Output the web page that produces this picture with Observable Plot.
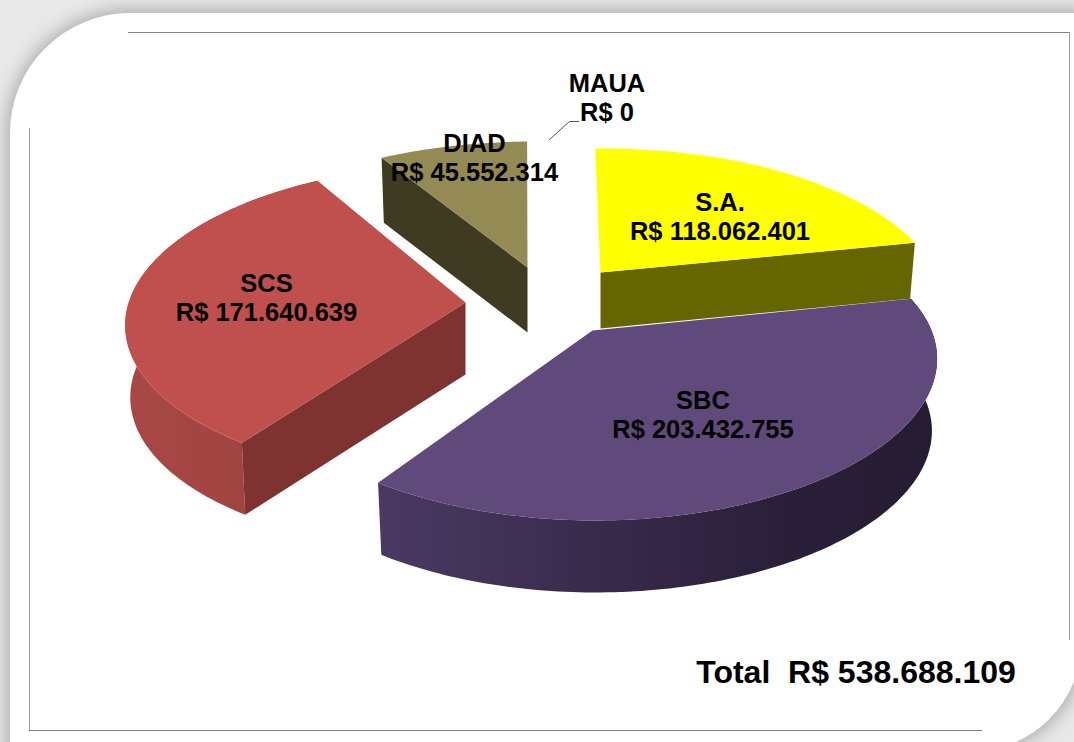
<!DOCTYPE html>
<html>
<head>
<meta charset="utf-8">
<script src="https://cdn.jsdelivr.net/npm/d3@7"></script>
<script src="https://cdn.jsdelivr.net/npm/@observablehq/plot@0.6"></script>
<style>
html,body{margin:0;padding:0;background:#fff;overflow:hidden}
#page{position:relative;width:1074px;height:742px;overflow:hidden;background:#e9e9e9}
#card{position:absolute;left:10px;top:13px;width:1072px;height:739px;background:#fff;border-radius:120px 0 112px 0;box-shadow:0 0 18px 3px #a8a8a8}
.rule{position:absolute;background:#828282}
#chart{position:absolute;left:0;top:0}
#chart svg{background:transparent;display:block}
</style>
</head>
<body>
<div id="page">
  <div id="card"></div>
  <div class="rule" style="left:128px;top:32px;width:942px;height:1px"></div>
  <div class="rule" style="left:29px;top:128px;width:1px;height:603px;background:#a0a0a0"></div>
  <div class="rule" style="left:29px;top:730px;width:953px;height:1px"></div>
  <div class="rule" style="left:1069px;top:32px;width:1px;height:608px;background:#a0a0a0"></div>
  <div id="chart"></div>
</div>
<script>
// Data
const names  = ["S.A.", "SBC", "SCS", "DIAD", "MAUA"];
const values = [118062401, 203432755, 171640639, 45552314, 0];

// Styles
const topColors  = ["#ffff00", "#604a7b", "#c0504d", "#948a54"];
const sideColors = ["#666600", "#3a2c4e", "#7f3331", "#3f3a22"];

// Exploded pie layout: apex of each slice, offset of its rim, rim size, wall height, label anchor
const apexX   = [600, 592, 465, 527];
const apexY   = [272, 330, 302, 267];
const rimDX   = [2, 3, 0, 7];
const rimDY   = [2, 0, -12, 0];
const rimRX   = [334, 336, 332, 338];
const perspX  = [0.2, 0.18, 0.22, 0.2];
const depth   = [56, 72, 72, 65];
const labelX  = [719.5, 702.5, 266, 474, 606.5];
const labelY  = [216, 414, 297, 157, 97];

// Projection of the tilted disc
const startDeg = -1.5, radiusY = 151.5, perspY = 0.2025, wallShrink = 0.985;

const total = d3.sum(values);
const money = v => "R$ " + String(v).replace(/\B(?=(\d{3})+$)/g, ".");

function project(i, deg, drop = 0) {
  const t = deg * Math.PI / 180, u = Math.sin(t), v = Math.cos(t);
  const dx = rimDX[i] + rimRX[i] * u / (1 + perspX[i] * v);
  const dy = rimDY[i] - radiusY * v / (1 + perspY * v);
  return {x: apexX[i] + dx * (drop ? wallShrink : 1), y: apexY[i] + dy + drop};
}

// Slice angles derive from the values
let acc = 0;
const spans = values.map(v => { const a = startDeg + acc / total * 360; acc += v; return [a, startDeg + acc / total * 360]; });

function arc(i, a0, a1, drop = 0) {
  const n = Math.max(2, Math.ceil(Math.abs(a1 - a0)));
  return d3.range(n + 1).map(k => project(i, a0 + (a1 - a0) * k / n, drop));
}
const apex = (i, drop = 0) => ({x: apexX[i], y: apexY[i] + drop});
const topFace = i => [apex(i), ...arc(i, spans[i][0], spans[i][1])];
const rimWall = i => [...arc(i, spans[i][0], spans[i][1]), ...arc(i, spans[i][1], spans[i][0], depth[i])];
const endWall = (i, a) => [apex(i), project(i, a), project(i, a, depth[i]), apex(i, depth[i])];

const poly = (pts, fill) => Plot.line(pts, {x: "x", y: "y", fill, stroke: "none", curve: "linear-closed"});

function gradient(id, stops) {
  return () => {
    const defs = d3.create("svg:defs");
    const g = defs.append("linearGradient").attr("id", id);
    stops.forEach(([o, c]) => g.append("stop").attr("offset", o).attr("stop-color", c));
    return defs.node();
  };
}

const labels = names.map((n, i) => ({x: labelX[i], y: labelY[i], text: n + "\n" + money(values[i])}));
const leaderX = [549, 569, 578], leaderY = [139, 121, 121];
const font = "Liberation Sans, Arial, sans-serif";

const plot = Plot.plot({
  width: 1074, height: 742, margin: 0,
  x: {domain: [0, 1074], range: [0, 1074], axis: null},
  y: {domain: [0, 742], range: [0, 742], axis: null},
  marks: [
    gradient("purpleWall", [[0, "#4a3a63"], [0.35, "#3a2c4e"], [0.7, "#2a203a"], [1, "#251c33"]]),
    gradient("redWall", [[0, "#a94846"], [0.6, "#a04442"], [1, "#8a3a38"]]),
    // DIAD
    poly(endWall(3, spans[3][0]), sideColors[3]),
    poly(topFace(3), topColors[3]),
    // SCS
    poly(rimWall(2), "url(#redWall)"),
    poly(endWall(2, spans[2][0]), sideColors[2]),
    poly(topFace(2), topColors[2]),
    // S.A.
    poly(endWall(0, spans[0][1]), sideColors[0]),
    poly(topFace(0), topColors[0]),
    // SBC
    poly(rimWall(1), "url(#purpleWall)"),
    poly(topFace(1), topColors[1]),
    // MAUA leader
    Plot.line(leaderX.map((x, i) => ({x, y: leaderY[i]})), {x: "x", y: "y", stroke: "#555", strokeWidth: 1}),
    // Labels
    Plot.text(labels, {x: "x", y: "y", text: "text", fontFamily: font, fontWeight: "bold", fontSize: 25.5, fill: "#000", lineHeight: 1.1}),
    Plot.text([{x: 855.5, y: 672, text: "Total  " + money(total)}], {x: "x", y: "y", text: "text", fontFamily: font, fontWeight: "bold", fontSize: 32, fill: "#000"})
  ]
});
document.getElementById("chart").appendChild(plot);
</script>
</body>
</html>
